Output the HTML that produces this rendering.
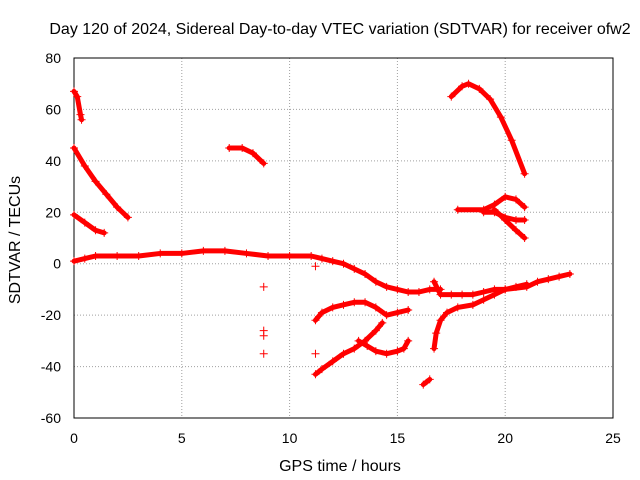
<!DOCTYPE html>
<html><head><meta charset="utf-8"><style>
body{margin:0;background:#fff}
svg{display:block;font-family:"Liberation Sans",sans-serif}
</style></head><body>
<svg id="c" width="640" height="480"></svg>
<script>
const xTicks=[0,5,10,15,20,25];
const yTicks=[-60,-40,-20,0,20,40,60,80];
const seriesA=[[0,1],[0.5,2],[1,3],[2,3],[3,3],[4,4],[5,4],[6,5],[7,5],[8,4],[9,3],[10,3],[11,3],[11.5,2],[12,1],[12.5,0],[13,-2],[13.5,-4],[14,-7],[14.5,-9],[15,-10],[15.5,-11],[16,-11],[16.5,-10],[17,-10]];
const seriesB=[[0,67],[0.15,65],[0.3,58],[0.35,56]];
const seriesC=[[0,45],[0.5,38],[1,32],[1.5,27],[2,22],[2.5,18]];
const seriesD=[[0,19],[0.5,16],[1,13],[1.4,12]];
const seriesE=[[7.2,45],[7.8,45],[8.3,43],[8.8,39]];
const seriesF=[[17.5,65],[18,69],[18.3,70],[18.8,68],[19.3,64],[19.8,57],[20.3,48],[20.9,35]];
const seriesG=[[17.8,21],[19,21],[19.5,23],[20,26],[20.5,25],[20.9,22]];
const seriesH=[[19,20],[19.5,20],[20,18],[20.5,17],[20.9,17]];
const seriesI=[[19.5,21],[20,17],[20.5,13],[20.9,10]];
const seriesJ=[[11.2,-22],[11.5,-19],[12,-17],[12.5,-16],[13,-15],[13.5,-15],[14,-17],[14.5,-20],[15,-19],[15.5,-18]];
const seriesK=[[11.2,-43],[11.5,-41],[12,-38],[12.5,-35],[13,-33],[13.5,-30],[14,-26],[14.3,-23]];
const seriesL=[[13.2,-30],[13.6,-32],[14,-34],[14.5,-35],[15,-34],[15.3,-33],[15.5,-30]];
const seriesM=[[16.7,-33],[16.8,-27],[17,-22],[17.3,-19],[17.8,-17],[18.5,-16],[19,-14],[19.5,-12],[20,-10],[21,-9],[21.5,-7],[22,-6],[22.5,-5],[23,-4]];
const seriesN=[[16.7,-7],[17,-12],[17.5,-12],[18,-12],[18.5,-12],[19,-11],[19.5,-10],[20,-10],[20.5,-9],[21,-8]];
const seriesO=[[16.2,-47],[16.5,-45]];
const isolated=[[8.8,-9],[8.8,-26],[8.8,-28],[8.8,-35],[11.2,-35],[11.2,-1]];
const allSeries=[seriesA,seriesB,seriesC,seriesD,seriesE,seriesF,seriesG,seriesH,seriesI,seriesJ,seriesK,seriesL,seriesM,seriesN,seriesO];

const L=74,R=613,T=58,B=418;
const sx=v=>L+(v-0)/(25-0)*(R-L);
const sy=v=>B-(v+60)/(140)*(B-T);
const svg=document.getElementById('c');
const NS='http://www.w3.org/2000/svg';
function mk(tag,at,txt){const e=document.createElementNS(NS,tag);for(const k in at)e.setAttribute(k,at[k]);if(txt!==undefined)e.textContent=txt;svg.appendChild(e);return e;}

xTicks.forEach(t=>{
 const g=mk('line',{x1:sx(t),x2:sx(t),y1:T,y2:B,stroke:'#a0a0a0','stroke-dasharray':'1,2'});
 
 
 const l=mk('text',{x:sx(t),y:443,'text-anchor':'middle','font-size':14,fill:'#000'},String(t));
 
 
});
yTicks.forEach(t=>{
 const g=mk('line',{x1:L,x2:R,y1:sy(t),y2:sy(t),stroke:'#a0a0a0','stroke-dasharray':'1,2'});
 
 
 const l=mk('text',{x:61,y:sy(t)+5,'text-anchor':'end','font-size':14,fill:'#000'},String(t));
 
 
});
const fr=mk('rect',{x:L,y:T,width:R-L,height:B-T,fill:'none',stroke:'#000'});



function marker(p){
 const x=sx(p[0]),y=sy(p[1]);
 const m=mk('path',{d:`M${x-4},${y}h8M${x},${y-4}v8`,stroke:'#f00','stroke-width':1});
 
 
}
allSeries.forEach(s=>{
 const pl=mk('polyline',{points:s.map(p=>sx(p[0])+','+sy(p[1])).join(' '),fill:'none',stroke:'#f00','stroke-width':5,'stroke-linejoin':'round','stroke-linecap':'round'});
 
 
 s.forEach(marker);
});
isolated.forEach(marker);

const ti=mk('text',{x:340,y:34,'text-anchor':'middle','font-size':16,fill:'#000'},'Day 120 of 2024, Sidereal Day-to-day VTEC variation (SDTVAR) for receiver ofw2');


const xt=mk('text',{x:340,y:471,'text-anchor':'middle','font-size':16,fill:'#000'},'GPS time / hours');


const yt=mk('text',{x:20,y:240,'text-anchor':'middle','font-size':16,fill:'#000',transform:'rotate(-90 20 240)'},'SDTVAR / TECUs');


</script>
</body></html>
